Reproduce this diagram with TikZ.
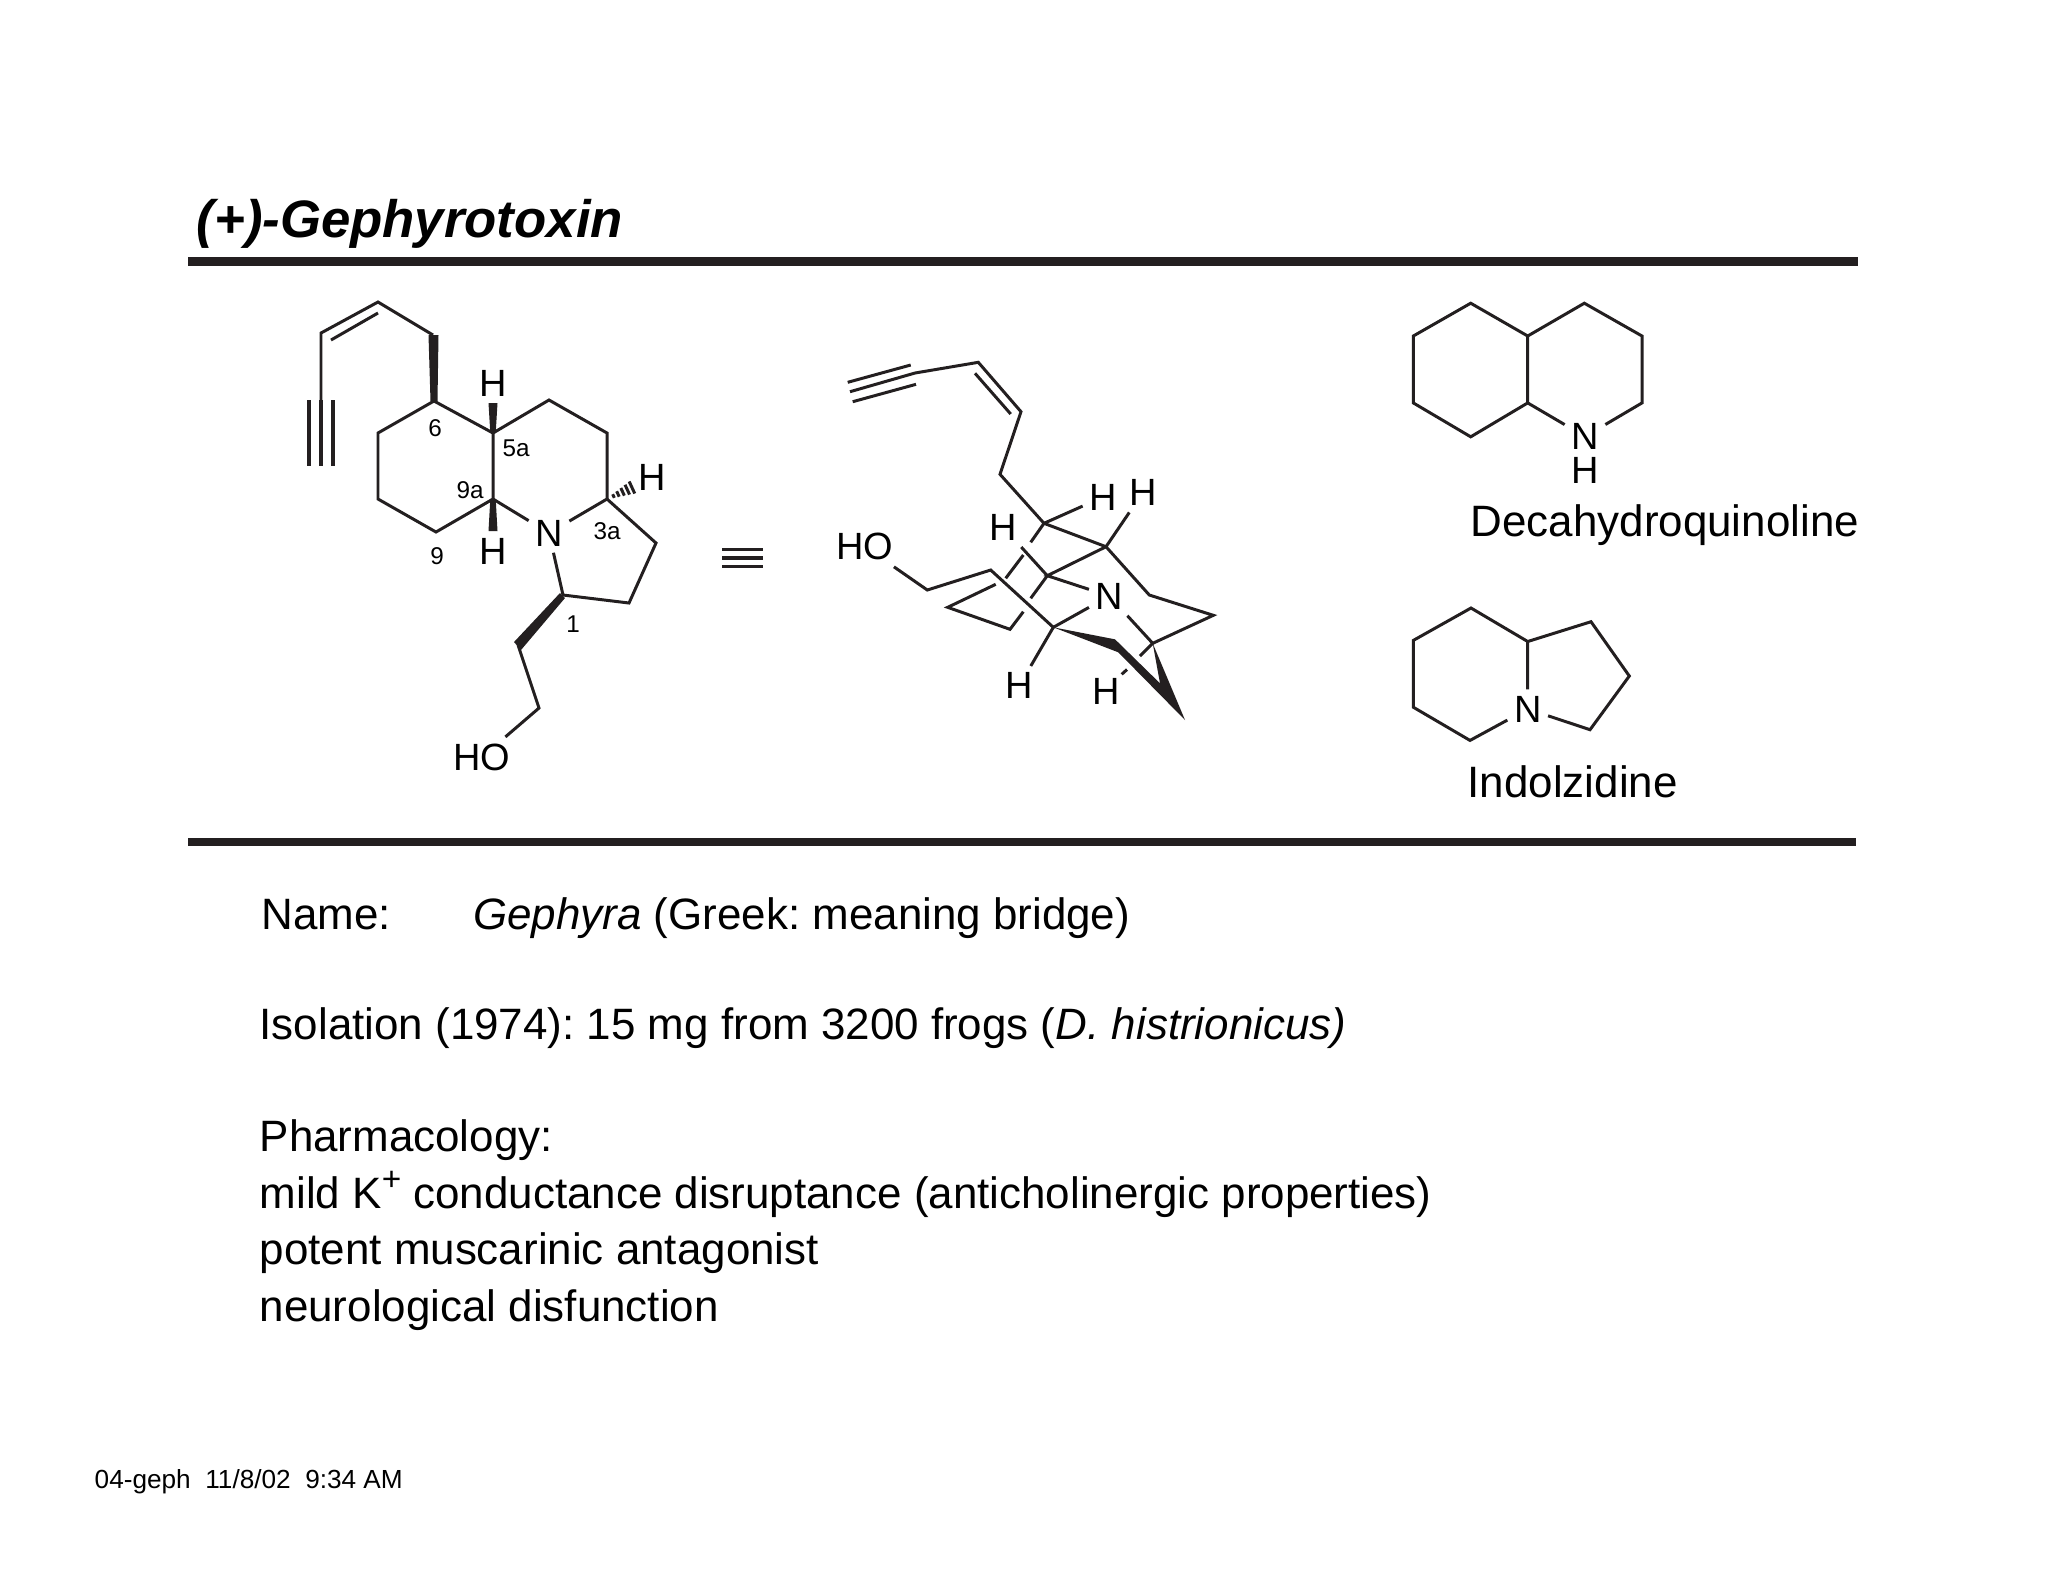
\documentclass[tikz,border=0pt]{standalone}
\usepackage{fontspec}
\setmainfont{Liberation Sans}
\usetikzlibrary{calc}
\definecolor{ink}{HTML}{231F20}
\frenchspacing
\tikzset{
  bond/.style={draw=ink,line width=0.85pt,line join=miter},
  fatbond/.style={draw=ink,line width=1.1pt},
  wedgefill/.style={fill=ink,draw=none},
  rulebar/.style={draw=ink,line width=2.5pt},
  atomlabel/.style={inner sep=1.7pt,font=\fontsize{10.8}{10.8}\selectfont},
  numlabel/.style={inner sep=0pt,font=\fontsize{6.9}{6.9}\selectfont},
  bodytext/.style={anchor=base west,inner sep=0pt,font=\fontsize{12.5}{12.5}\selectfont},
}
\begin{document}
\begin{tikzpicture}[x=0.1mm,y=-0.1mm]
  \useasboundingbox (0,0) rectangle (2048,1582);
  % heading and rules
  \node[anchor=base west,inner sep=0pt,font=\fontsize{15}{15}\bfseries\itshape\selectfont] (title) at (196,237.5) {(+)-Gephyrotoxin};
  \coordinate (ruleAw) at (188,261.5);
  \coordinate (ruleAe) at (1858,261.5);
  \coordinate (ruleBw) at (188,842);
  \coordinate (ruleBe) at (1856,842);
  \draw[rulebar] (ruleAw)--(ruleAe);
  \draw[rulebar] (ruleBw)--(ruleBe);

  % first drawing
  \foreach \n/\x/\y in {c6/434/401, c7/378/433, c8/378/499, c9/436/532, c9a/493/499, c5a/493/433,
      c5/549/400, c4/607/433, c3a/607/499, c3/656/543, c2/629/603, c1/563/595,
      s1/518/645, s2/539/708, e1/433/335, e2/378/302, e3/321/333, e4/321/400, e5/321/466,
      d1/331/340, d2/378/313, hend/633/487}
    \coordinate (\n) at (\x,\y);
  \node[atomlabel] (n1) at (549,533) {N};
  \node[atomlabel] (h5a) at (493,383) {H};
  \node[atomlabel] (h9a) at (493,551) {H};
  \node[atomlabel] (h3a) at (652,477) {H};
  \node[atomlabel] (ho1) at (482,757) {HO};
  \draw[bond] (c5a)--(c6)--(c7)--(c8)--(c9)--(c9a)--cycle;
  \draw[bond] (c5a)--(c5)--(c4)--(c3a)--(n1);
  \draw[bond] (c9a)--(n1);
  \draw[bond] (n1)--(c1)--(c2)--(c3)--(c3a);
  \draw[bond] (s1)--(s2)--(ho1);
  \draw[bond] (e4)--(e3)--(e2)--(e1);
  \draw[bond] (d1)--(d2);
  \foreach \dx in {-11.7,0,11.7}
    \draw[fatbond] ($(e4)+(\dx,0)$)--($(e5)+(\dx,0)$);
  \fill[wedgefill] (430.5,401)--(428.5,335)--(438.5,335)--(437.5,401)--cycle;
  \fill[wedgefill] (490.3,433)--(488.5,403)--(497.5,403)--(495.7,433)--cycle;
  \fill[wedgefill] (490.3,499)--(488.5,531)--(497.5,531)--(495.7,499)--cycle;
  \fill[wedgefill] (560,593)--(514,642)--(521,650)--(565,598)--cycle;
  \foreach \t/\l in {.25/2,.42/3,.6/4.2,.78/5.4,.96/6.6}
    \draw[bond] ($(c3a)!\t!(hend)+(.42*\l,.91*\l)$)--($(c3a)!\t!(hend)-(.42*\l,.91*\l)$);
  \node[numlabel] (lab6) at (435,428) {6};
  \node[numlabel] (lab5a) at (516,448) {5a};
  \node[numlabel] (lab9a) at (470,490) {9a};
  \node[numlabel] (lab9) at (437,556) {9};
  \node[numlabel] (lab3a) at (607,531) {3a};
  \node[numlabel] (lab1) at (573,624) {1};

  % equivalence sign
  \coordinate (eqw) at (722,558);
  \coordinate (eqe) at (763,558);
  \foreach \dy in {-8.5,0,8.5}
    \draw[fatbond] ($(eqw)+(0,\dy)$)--($(eqe)+(0,\dy)$);

  % second drawing
  \foreach \n/\x/\y in {t1/850/391.7, t2/915/373, t3/847.7/382.3, t4/910.7/365, t5/852.7/401.7, t6/916/384.3,
      v1/978.3/362.3, v2/1021/411.7, v3/975/373.3, v4/1010.7/414, v5/1000/474.3, v6/1044/523.3,
      w1/1106/546.7, w2/1047.3/575.7, w3/1149.3/595, w4/1213.3/615.3, w5/1152.7/643.3,
      o1/927.3/590, o2/990.7/570, o3/1053.3/627.3,
      r1/1030.7/542.3, r2/1023.3/555, r3/1005.7/578.3, r4/995.7/584.3, r5/947.7/607.3, r6/1010/629.3,
      r7/1023.3/611.7, r8/1030.7/598.3, b1/1140/656, b2/1127/669.5, b3/1121.7/674.3,
      k1/1115/639.3, k2/1160/683.3, k3/1185/720, k4/1118.3/652.3}
    \coordinate (\n) at (\x,\y);
  \node[atomlabel] (n2) at (1109.3,596) {N};
  \node[atomlabel] (ho2) at (865,546.7) {HO};
  \node[atomlabel] (h1) at (1103,497) {H};
  \node[atomlabel] (h2) at (1142.7,492.7) {H};
  \node[atomlabel] (h3) at (1003.3,527.3) {H};
  \node[atomlabel] (h4) at (1019.3,685.7) {H};
  \node[atomlabel] (h5) at (1105.7,691) {H};
  \draw[bond] (t1)--(t2)--(v1)--(v2)--(v5)--(v6)--(w1)--(w3)--(w4)--(w5)--(n2);
  \draw[bond] (t3)--(t4);
  \draw[bond] (t5)--(t6);
  \draw[bond] (v3)--(v4);
  \draw[bond] (v6)--(h1);
  \draw[bond] (w1)--(h2);
  \draw[bond] (w1)--(w2)--(n2);
  \draw[bond] (w2)--(h3);
  \draw[bond] (ho2)--(o1)--(o2)--(o3)--(n2);
  \draw[bond] (o3)--(h4);
  \draw[bond] (v6)--(r1);
  \draw[bond] (r2)--(r3);
  \draw[bond] (r4)--(r5)--(r6)--(r7);
  \draw[bond] (r8)--(w2);
  \draw[bond] (w5)--(b1);
  \draw[bond] (b2)--(b3);
  \fill[wedgefill] (o3)--(k1)--(k2)--(w5)--(k3)--(k4)--cycle;

  % parent ring systems
  \foreach \n/\x/\y in {q1/1470.7/303.2, q2/1413.3/336, q3/1413.3/402.9, q4/1470.7/436.8, q5/1527.7/402.9,
      q6/1527.7/336, q7/1584.3/303.2, q8/1642/336, q9/1642/402.9,
      i1/1471/608, i2/1413.3/640.4, i3/1413.3/707.2, i4/1470/740.4, i5/1527.7/641.5,
      i6/1591/621.7, i7/1629.3/676, i8/1590/729.7}
    \coordinate (\n) at (\x,\y);
  \node[atomlabel] (n3) at (1585,436.5) {N};
  \node[inner sep=0pt,font=\fontsize{10.8}{10.8}\selectfont] (h6) at (1585,470.4) {H};
  \node[atomlabel] (n4) at (1527.7,709) {N};
  \draw[bond] (q6)--(q1)--(q2)--(q3)--(q4)--(q5)--cycle;
  \draw[bond] (q6)--(q7)--(q8)--(q9)--(n3)--(q5);
  \draw[bond] (i5)--(i1)--(i2)--(i3)--(i4)--(n4)--(i5)--(i6)--(i7)--(i8)--(n4);
  \node[bodytext] (lab10) at (1470,536.8) {Decahydroquinoline};
  \node[bodytext] (lab11) at (1467,797) {Indolzidine};

  % notes
  \node[bodytext] (nameA) at (261,929) {Name:};
  \node[bodytext] (nameB) at (472.5,929) {\textit{Gephyra} (Greek: meaning bridge)};
  \node[bodytext] (iso) at (259,1039) {Isolation (1974): 15 mg from 3200 frogs (\textit{D. histrionicus)}};
  \node[bodytext] (ph1) at (259,1151.5) {Pharmacology:};
  \node[bodytext] (ph2) at (259,1208) {mild K\raisebox{.4em}{\fontsize{9.5}{9.5}\selectfont+} conductance disruptance (anticholinergic properties)};
  \node[bodytext] (ph3) at (259,1264.5) {potent muscarinic antagonist};
  \node[bodytext] (ph4) at (259,1321.5) {neurological disfunction};
  \node[anchor=base west,inner sep=0pt,font=\fontsize{7.45}{7.45}\selectfont] (stamp) at (94,1488) {04-geph\ \ 11/8/02\ \ 9:34 AM};
\end{tikzpicture}
\end{document}
